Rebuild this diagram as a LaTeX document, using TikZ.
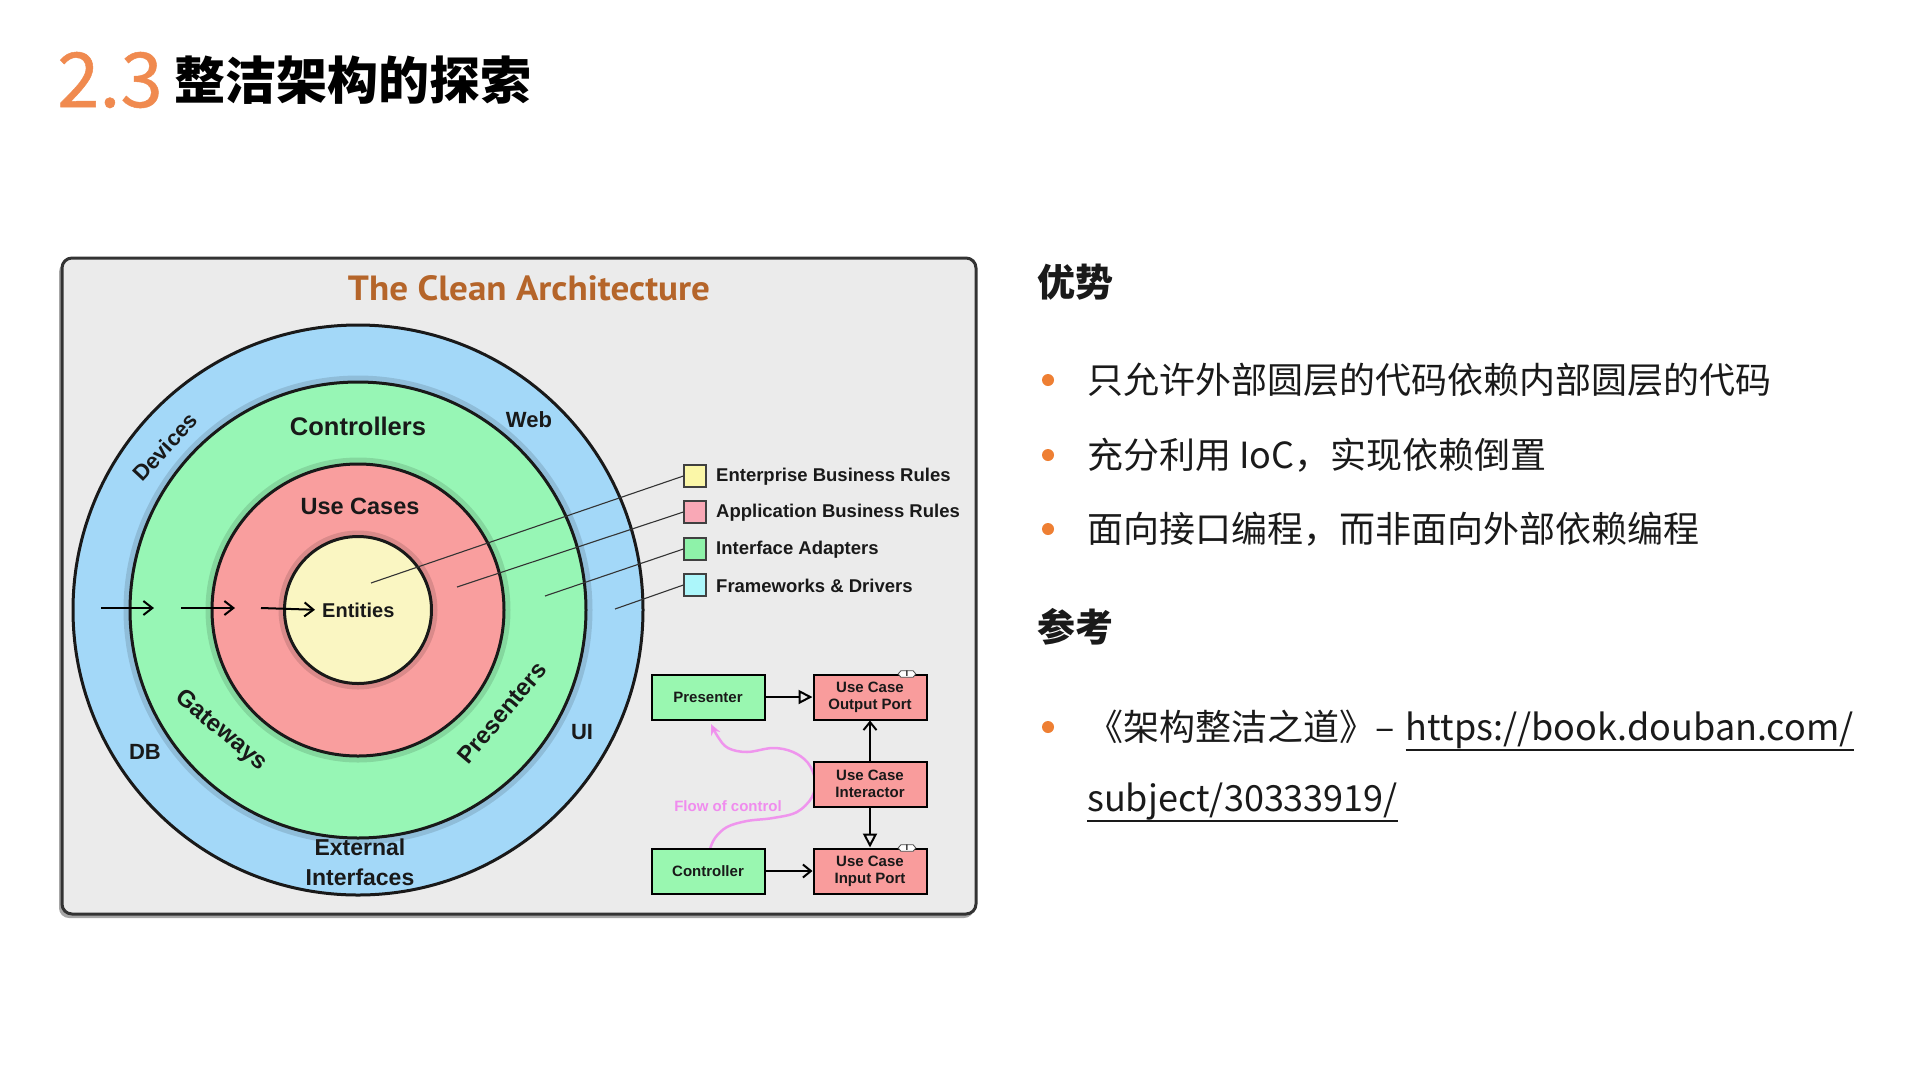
\documentclass[tikz,border=0pt]{standalone}
\usepackage{fontspec}
\setmainfont{Liberation Sans}
\newfontfamily\cjk{Noto Sans CJK SC}
\newfontfamily\cjknum[FakeBold=0.6]{Noto Sans CJK SC}
\newfontfamily\ptsans{PT Sans}
\usetikzlibrary{arrows.meta,shapes.symbols}
\definecolor{orangeT}{HTML}{F08A4F}
\definecolor{bulletO}{HTML}{EE7F33}
\definecolor{frameBG}{HTML}{EBEBEB}
\definecolor{ringBlue}{HTML}{A3D8F8}
\definecolor{ringGreen}{HTML}{97F6B5}
\definecolor{ringRed}{HTML}{F99E9E}
\definecolor{ringYellow}{HTML}{FAF6C2}
\definecolor{legY}{HTML}{FBF7A8}
\definecolor{legR}{HTML}{F9A8B6}
\definecolor{legG}{HTML}{8EF2A9}
\definecolor{legC}{HTML}{ACF6FA}
\definecolor{titleBrown}{HTML}{B5652A}
\definecolor{flowPink}{HTML}{F08CEE}
\definecolor{boxGreen}{HTML}{99F7B0}
\definecolor{boxRed}{HTML}{F99C9C}
\definecolor{bodyText}{HTML}{1A1A1A}
\tikzset{
  ring/.style={circle, draw=black!90, line width=3pt, inner sep=0pt},
  ringshadow/.style={draw=black, opacity=0.12, line width=7pt},
  ringlbl/.style={font=\bfseries\fontsize{22}{26}\selectfont, text=black!90, inner sep=0pt},
  innerlbl/.style={font=\bfseries\fontsize{24}{30}\selectfont, text=black!90, inner sep=0pt},
  legbox/.style={draw=black!75, line width=1.2pt, minimum size=22pt, inner sep=0pt},
  legtxt/.style={anchor=west, font=\bfseries\fontsize{18.5}{22}\selectfont, text=black!90, inner sep=0pt},
  leader/.style={draw=black!80, line width=1.1pt},
  flowarrow/.style={line width=2pt, -{Straight Barb[length=9pt,width=14pt,line width=2pt]}},
  ucbox/.style={draw=black, line width=2pt, minimum width=113pt, minimum height=45pt, align=center, font=\bfseries\fontsize{15}{17}\selectfont, inner sep=0pt, text=black!90},
  uarrow/.style={line width=2pt, -{Straight Barb[length=8pt,width=13pt,line width=2pt]}},
  utri/.style={line width=2pt, -{Triangle[open,length=14pt,width=14pt,line width=2pt]}},
  badge/.style={signal, signal to=east and west, signal pointer angle=100, draw=black!70, fill=white, line width=0.8pt, inner xsep=5pt, inner ysep=0.5pt, font=\bfseries\fontsize{8}{8}\selectfont},
  bodytxt/.style={anchor=west, font=\cjk\fontsize{36}{44}\selectfont, text=bodyText, inner sep=0pt},
  headtxt/.style={anchor=west, font=\cjk\bfseries\fontsize{38}{44}\selectfont, text=bodyText, inner sep=0pt},
  bulletdot/.style={circle, fill=bulletO, minimum size=12pt, inner sep=0pt}
}
\begin{document}
\begin{tikzpicture}[x=1pt,y=-1pt]
\useasboundingbox (0,0) rectangle (1920,1080);
\fill[white] (0,0) rectangle (1920,1080);

% ---- slide title
\node[anchor=west, inner sep=0pt, font=\cjknum\fontsize{76}{80}\selectfont, text=orangeT] (num) at (57,80) {2.3};
\node[anchor=west, inner sep=0pt, font=\cjk\bfseries\fontsize{51}{56}\selectfont, text=black] (ttl) at (174,80) {整洁架构的探索};

% ---- diagram frame
\fill[black, opacity=0.35, rounded corners=10pt] (59,262) rectangle (974,918);
\draw[rounded corners=10pt, line width=3pt, draw=black!80, fill=frameBG] (62,258) rectangle (976,914);
\node[font=\ptsans\bfseries\fontsize{35}{40}\selectfont, text=titleBrown, inner sep=0pt, xscale=1.06] (cleantitle) at (529,288) {The Clean Architecture};

% ---- rings
\node[ring, fill=ringBlue, minimum size=570pt] (outer) at (358,610) {};
\draw[ringshadow] (outer.center) circle[radius=231pt];
\node[ring, fill=ringGreen, minimum size=456pt] (green) at (358,610) {};
\draw[ringshadow] (green.center) circle[radius=149pt];
\node[ring, fill=ringRed, minimum size=292pt] (red) at (358,610) {};
\draw[ringshadow] (red.center) circle[radius=76pt];
\node[ring, fill=ringYellow, minimum size=147pt] (yellow) at (358,610) {};

% ring labels
\node[innerlbl, font=\bfseries\fontsize{25.5}{30}\selectfont] (ctrls) at (358,426) {Controllers};
\node[innerlbl, font=\bfseries\fontsize{23.5}{28}\selectfont] (ucases) at (360,506) {Use Cases};
\node[innerlbl, font=\bfseries\fontsize{20}{24}\selectfont, anchor=west] (ent) at (322,610) {Entities};
\node[ringlbl] (web) at (529,420) {Web};
\node[ringlbl, rotate=47] (dev) at (165,447) {Devices};
\node[ringlbl] (db) at (145,752) {DB};
\node[ringlbl] (ui) at (582,732) {UI};
\node[innerlbl, rotate=-40] (gw) at (221,731) {Gateways};
\node[innerlbl, rotate=50] (pres) at (502,713) {Presenters};
\node[ringlbl, font=\bfseries\fontsize{23}{30}\selectfont, align=center] (ext) at (360,862) {External\\Interfaces};

% inward arrows
\coordinate (a1s) at (101,608); \coordinate (a1e) at (154,608);
\coordinate (a2s) at (181,608); \coordinate (a2e) at (235,608);
\coordinate (a3s) at (261,608);
\draw[flowarrow] (a1s) -- (a1e);
\draw[flowarrow] (a2s) -- (a2e);
\draw[flowarrow, shorten >=7pt] (a3s) -- (ent.west);

% ---- legend
\node[legbox, fill=legY] (lgY) at (695,476) {};
\node[legbox, fill=legR] (lgR) at (695,512) {};
\node[legbox, fill=legG] (lgG) at (695,549) {};
\node[legbox, fill=legC] (lgC) at (695,585) {};
\node[legtxt] (ltY) at (716,477) {Enterprise Business Rules};
\node[legtxt] (ltR) at (716,513) {Application Business Rules};
\node[legtxt] (ltG) at (716,550) {Interface Adapters};
\node[legtxt] (ltC) at (716,586) {Frameworks \& Drivers};
\coordinate (pY) at (371,583);
\coordinate (pR) at (457,587);
\coordinate (pG) at (545,596);
\coordinate (pC) at (615,609);
\draw[leader] (lgY.west) -- (pY);
\draw[leader] (lgR.west) -- (pR);
\draw[leader] (lgG.west) -- (pG);
\draw[leader] (lgC.west) -- (pC);

% ---- flow of control
\coordinate (fend) at (711,724);
\draw[flowPink, line width=2.5pt, opacity=0.9, -{Stealth[length=11pt,width=10pt]}]
  plot[smooth, tension=0.6] coordinates {(710,849) (715,838) (727,827) (747,821) (773,818) (797,812) (812,797) (815,780) (808,763) (793,752) (773,748) (747,752) (728,748) (718,737) (fend)};
\node[font=\bfseries\fontsize{15}{18}\selectfont, text=flowPink, inner sep=0pt] (flowlbl) at (728,806) {Flow of control};

% ---- use case boxes
\node[ucbox, fill=boxGreen] (presenter) at (708,697) {Presenter};
\node[ucbox, fill=boxRed] (outport) at (870,697) {Use Case\\Output Port};
\node[ucbox, fill=boxRed] (interactor) at (870,784) {Use Case\\Interactor};
\node[ucbox, fill=boxGreen] (controller) at (708,871) {Controller};
\node[ucbox, fill=boxRed] (inport) at (870,871) {Use Case\\Input Port};
\node[badge] (b1) at (907,674) {I};
\node[badge] (b2) at (907,848) {I};
\draw[utri] (presenter.east) -- (outport.west);
\draw[uarrow] (interactor.north) -- (outport.south);
\draw[utri] (interactor.south) -- (inport.north);
\draw[uarrow] (controller.east) -- (inport.west);

% ---- right column
\node[headtxt] (h1) at (1037,282) {优势};
\node[bulletdot] (d1) at (1048,380) {};
\node[bodytxt] (t1) at (1087,380) {只允许外部圆层的代码依赖内部圆层的代码};
\node[bulletdot] (d2) at (1048,455) {};
\node[bodytxt] (t2) at (1087,455) {充分利用 IoC，实现依赖倒置};
\node[bulletdot] (d3) at (1048,529) {};
\node[bodytxt] (t3) at (1087,529) {面向接口编程，而非面向外部依赖编程};
\node[headtxt] (h2) at (1037,627) {参考};
\node[bulletdot] (d4) at (1048,727) {};
\node[bodytxt] (t4) at (1087,727) {《架构整洁之道》–};
\node[anchor=base west, inner sep=0pt, xshift=11pt, font=\cjk\fontsize{36}{44}\selectfont, text=bodyText] (url1) at (t4.base east) {https://book.douban.com/};
\node[bodytxt] (url2) at (1087,802) {subject/30333919/};
\draw[line width=2pt, bodyText] ([yshift=-9pt]url1.base west) -- ([yshift=-9pt]url1.base east);
\draw[line width=2pt, bodyText] ([yshift=-9pt]url2.base west) -- ([yshift=-9pt]url2.base east);
\end{tikzpicture}
\end{document}
